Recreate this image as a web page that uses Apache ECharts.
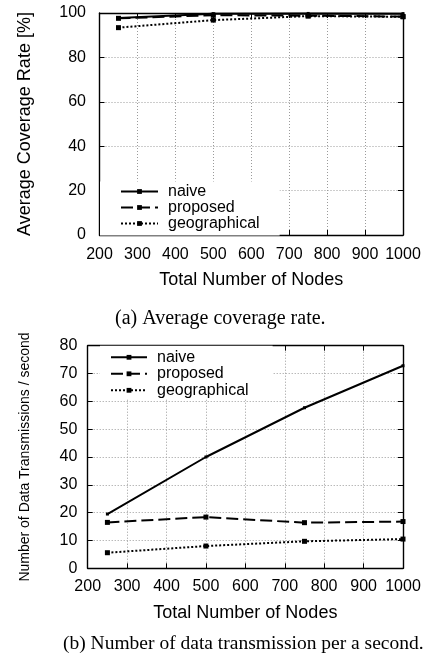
<!DOCTYPE html>
<html>
<head>
<meta charset="utf-8">
<script src="https://cdn.jsdelivr.net/npm/echarts@6/dist/echarts.min.js"></script>
<style>
html,body{margin:0;padding:0;background:#fff;}
#c{width:429px;height:661px;}
</style>
</head>
<body>
<div id="c"></div>
<script>
// ---- data ----
const nodes = [250, 500, 750, 1000];
const xTicks = [200, 300, 400, 500, 600, 700, 800, 900, 1000];
const coverageNaive = [97.7, 99.7, 99.8, 99.7];
const coverageProposed = [97.6, 99.0, 98.8, 98.4];
const coverageGeo = [93.4, 96.8, 98.6, 98.3];
const txNaive = [19.5, 40.0, 57.7, 72.8];
const txProposed = [16.5, 18.4, 16.4, 16.8];
const txGeo = [5.6, 8.0, 9.7, 10.5];
const seriesNames = ['naive', 'proposed', 'geographical'];
const captionA = '(a) Average coverage rate.';
const captionB = '(b) Number of data transmission per a second.';

const SANS = '"Liberation Sans", Arial, Helvetica, sans-serif';
const SERIF = '"Liberation Serif", "Times New Roman", serif';

function pairs(xs, ys) { return xs.map((x, i) => [x, ys[i]]); }
const plain = v => String(v);

const gridLine = { show: true, lineStyle: { color: '#9a9a9a', type: [1, 2], width: 1 } };
const frame = { show: true, onZero: false, lineStyle: { color: '#000', width: 1.4 } };

function mainX(gi, gap, margin) {
  return {
    type: 'value', gridIndex: gi, position: 'bottom', min: xTicks[0], max: xTicks[xTicks.length - 1], interval: 100,
    axisLine: frame, axisTick: { show: true, inside: true, length: 5, lineStyle: { color: '#000' } },
    axisLabel: { color: '#000', fontFamily: SANS, fontSize: 16, margin: margin, formatter: plain },
    splitLine: gridLine,
    name: 'Total Number of Nodes', nameLocation: 'middle', nameGap: gap,
    nameTextStyle: { color: '#000', fontFamily: SANS, fontSize: 18 }
  };
}
function mirrorX(gi) {
  return {
    type: 'value', gridIndex: gi, position: 'top', min: xTicks[0], max: xTicks[xTicks.length - 1], interval: 100,
    axisLine: frame, axisTick: { show: true, inside: true, length: 5, lineStyle: { color: '#000' } },
    axisLabel: { show: false }, splitLine: { show: false }
  };
}
function mainY(gi, max, interval, name, nameSize, gap, margin) {
  return {
    type: 'value', gridIndex: gi, position: 'left', min: 0, max: max, interval: interval,
    axisLine: frame, axisTick: { show: true, inside: true, length: 5, lineStyle: { color: '#000' } },
    axisLabel: { color: '#000', fontFamily: SANS, fontSize: 16, margin: margin, formatter: plain },
    splitLine: gridLine,
    name: name, nameLocation: 'middle', nameGap: gap,
    nameTextStyle: { color: '#000', fontFamily: SANS, fontSize: nameSize }
  };
}
function mirrorY(gi, max, interval) {
  return {
    type: 'value', gridIndex: gi, position: 'right', min: 0, max: max, interval: interval,
    axisLine: frame, axisTick: { show: true, inside: true, length: 5, lineStyle: { color: '#000' } },
    axisLabel: { show: false }, splitLine: { show: false }
  };
}

const styles = [
  { lineStyle: { color: '#000', width: 2, type: 'solid' }, symbol: 'rect', symbolSize: 3 },
  { lineStyle: { color: '#000', width: 2, type: [12, 5] }, symbol: 'rect', symbolSize: 5 },
  { lineStyle: { color: '#000', width: 2, type: [2, 2] }, symbol: 'rect', symbolSize: 5 }
];

function mkSeries(name, idx, xi, yi, ys) {
  const s = styles[idx];
  return {
    type: 'line', name: name, xAxisIndex: xi, yAxisIndex: yi,
    data: pairs(nodes, ys),
    lineStyle: s.lineStyle, symbol: s.symbol, symbolSize: s.symbolSize,
    showAllSymbol: true,
    itemStyle: { color: '#000', borderWidth: 0 },
    emphasis: { disabled: true }, animation: false
  };
}

const legendText = { color: '#000', fontFamily: SANS, fontSize: 16, lineHeight: 16, padding: [0, 0, 0, 5] };

const option = {
  backgroundColor: '#fff',
  animation: false,
  title: [
    { text: captionA, left: 115, top: 309, padding: 0,
      textStyle: { fontFamily: SERIF, fontSize: 20, fontWeight: 'normal', color: '#000' } },
    { text: captionB, left: 63, top: 634, padding: 0,
      textStyle: { fontFamily: SERIF, fontSize: 19.5, fontWeight: 'normal', color: '#000' } }
  ],
  grid: [
    { left: 99.5, top: 13, width: 303.5, height: 222 },
    { left: 87.7, top: 345.7, width: 315.3, height: 222.6 }
  ],
  legend: [
    { data: seriesNames, orient: 'vertical', left: 100, top: 181.5, padding: [2, 20, 4, 20],
      itemWidth: 37, itemHeight: 6, itemGap: 0, backgroundColor: '#fff',
      textStyle: legendText, selectedMode: false },
    { data: seriesNames, orient: 'vertical', left: 100, top: 345.7, padding: [3.6, 24, 1, 10],
      itemWidth: 36, itemHeight: 6, itemGap: 0.5, backgroundColor: '#fff',
      textStyle: legendText, selectedMode: false }
  ],
  xAxis: [mainX(0, 36.5, 12), mirrorX(0), mainX(1, 36, 10.7), mirrorX(1)],
  yAxis: [
    mainY(0, 100, 20, 'Average Coverage Rate [%]', 18, 65.5, 13.5), mirrorY(0, 100, 20),
    mainY(1, 80, 10, 'Number of Data Transmissions / second', 14, 56, 10.4), mirrorY(1, 80, 10)
  ],
  series: [
    mkSeries(seriesNames[0], 0, 0, 0, coverageNaive),
    mkSeries(seriesNames[1], 1, 0, 0, coverageProposed),
    mkSeries(seriesNames[2], 2, 0, 0, coverageGeo),
    mkSeries(seriesNames[0], 0, 2, 2, txNaive),
    mkSeries(seriesNames[1], 1, 2, 2, txProposed),
    mkSeries(seriesNames[2], 2, 2, 2, txGeo)
  ]
};

const chart = echarts.init(document.getElementById('c'), null, { renderer: 'canvas' });
chart.setOption(option);
</script>
</body>
</html>
